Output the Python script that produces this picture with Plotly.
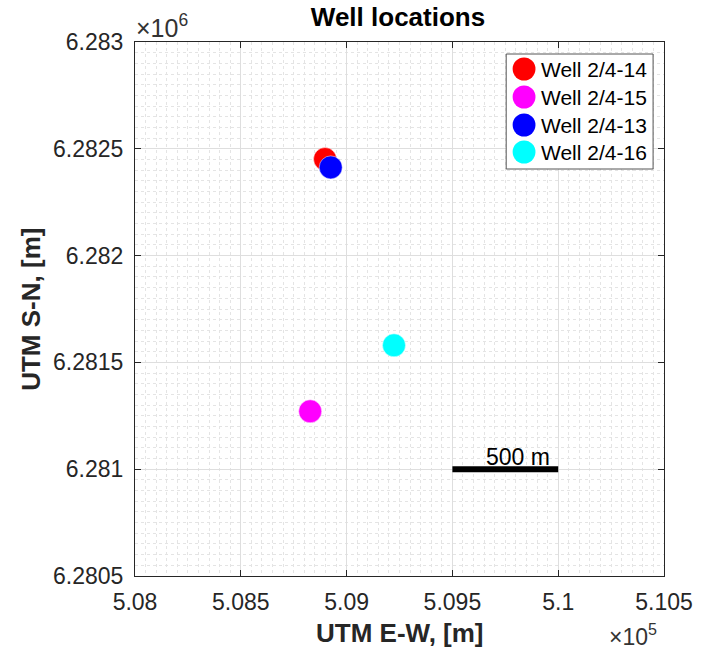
import plotly.graph_objects as go

# ---- data ----
well_names = ["Well 2/4-14", "Well 2/4-15", "Well 2/4-13", "Well 2/4-16"]
well_x = [508898, 508828, 508925, 509224]
well_y = [6282452, 6281271, 6282413, 6281580]
well_colors = ["#FF0000", "#FF00FF", "#0000FF", "#00FFFF"]

x_ticks = [508000, 508500, 509000, 509500, 510000, 510500]
x_tick_labels = ["5.08", "5.085", "5.09", "5.095", "5.1", "5.105"]
y_ticks = [6280500, 6281000, 6281500, 6282000, 6282500, 6283000]
y_tick_labels = ["6.2805", "6.281", "6.2815", "6.282", "6.2825", "6.283"]

scalebar_x = [509500, 510000]
scalebar_y = [6281000, 6281000]
scalebar_label = "500 m"
scalebar_label_x = 509650
scalebar_label_y = 6281055

W, H = 705, 650
L, R, T, B = 135, 37, 42, 74
PW, PH = W - L - R, H - T - B

FONT = "Liberation Sans, Arial, Helvetica, sans-serif"
AXC = "#262626"

def px2x(px):
    return (px - L) / PW

def py2y(py):
    return 1 - (py - T) / PH

fig = go.Figure()

# well markers (drawing order as in reference: red, magenta, blue, cyan)
for name, x, y, c in zip(well_names, well_x, well_y, well_colors):
    fig.add_trace(go.Scatter(
        x=[x], y=[y], mode="markers", name=name,
        marker=dict(size=23, color=c, line=dict(width=0.6, color="rgba(255,255,255,0.8)")),
        showlegend=False, hoverinfo="skip",
    ))

# scale bar
fig.add_trace(go.Scatter(
    x=scalebar_x, y=scalebar_y, mode="lines",
    line=dict(color="black", width=6), showlegend=False, hoverinfo="skip",
))

annotations = []
shapes = []

annotations.append(dict(
    x=scalebar_label_x, y=scalebar_label_y, xref="x", yref="y",
    text=scalebar_label, showarrow=False, xanchor="left", yanchor="middle",
    font=dict(family=FONT, size=23, color="black"),
))

# exponent labels
annotations.append(dict(
    x=px2x(134), y=py2y(26), xref="paper", yref="paper",
    text="\u00d710<sup>6</sup>", showarrow=False, xanchor="left", yanchor="middle",
    font=dict(family=FONT, size=25, color="#333333"),
))
annotations.append(dict(
    x=px2x(663), y=py2y(635), xref="paper", yref="paper",
    text="\u00d710<sup>5</sup>", showarrow=False, xanchor="right", yanchor="middle",
    font=dict(family=FONT, size=23, color="#333333"),
))

# custom legend (large markers like the reference)
shapes.append(dict(
    type="rect", xref="paper", yref="paper",
    x0=px2x(509), x1=px2x(657), y0=py2y(169), y1=py2y(54),
    line=dict(color="#555555", width=1), fillcolor="white", layer="above",
))
leg_y = [69, 97, 125, 152]
for name, c, ly in zip(well_names, well_colors, leg_y):
    shapes.append(dict(
        type="circle", xref="paper", yref="paper",
        x0=px2x(515.5), x1=px2x(538.5), y0=py2y(ly + 11.5), y1=py2y(ly - 11.5),
        fillcolor=c, line=dict(width=0), layer="above",
    ))
    annotations.append(dict(
        x=px2x(542), y=py2y(ly), xref="paper", yref="paper",
        text=name, showarrow=False, xanchor="left", yanchor="middle",
        font=dict(family=FONT, size=21, color="black"),
    ))

# axis titles
annotations.append(dict(
    x=px2x(402), y=py2y(633), xref="paper", yref="paper",
    text="<b>UTM E-W, [m]</b>", showarrow=False, xanchor="center", yanchor="middle",
    font=dict(family=FONT, size=26, color=AXC),
))
annotations.append(dict(
    x=px2x(30), y=0.5, xref="paper", yref="paper",
    text="<b>UTM S-N, [m]</b>", showarrow=False, xanchor="center", yanchor="middle",
    textangle=-90, font=dict(family=FONT, size=26, color=AXC),
))

axis_common = dict(
    showline=True, linecolor=AXC, linewidth=1, mirror="ticks",
    ticks="inside", ticklen=6, tickcolor=AXC,
    showgrid=True, gridcolor="#dedede", gridwidth=1,
    zeroline=False,
    tickfont=dict(family=FONT, size=23, color=AXC),
    minor=dict(dtick=50, showgrid=True, gridcolor="#e4e4e4", griddash="dot", gridwidth=1, ticks=""),
)

fig.update_layout(
    width=W, height=H, autosize=False,
    margin=dict(l=L, r=R, t=T, b=B, pad=0),
    paper_bgcolor="white", plot_bgcolor="white",
    title=dict(
        text="<b>Well locations</b>", x=px2x(400), xref="paper", xanchor="center",
        y=1 - 17 / H, yref="container", yanchor="middle",
        font=dict(family=FONT, size=26, color="black"),
    ),
    xaxis=dict(range=[508000, 510500], tickvals=x_ticks, ticktext=x_tick_labels,
               ticklabelstandoff=5, **axis_common),
    yaxis=dict(range=[6280500, 6283000], tickvals=y_ticks, ticktext=y_tick_labels,
               ticklabelstandoff=6, **axis_common),
    annotations=annotations,
    shapes=shapes,
    showlegend=False,
)

fig.write_html("out.html")
